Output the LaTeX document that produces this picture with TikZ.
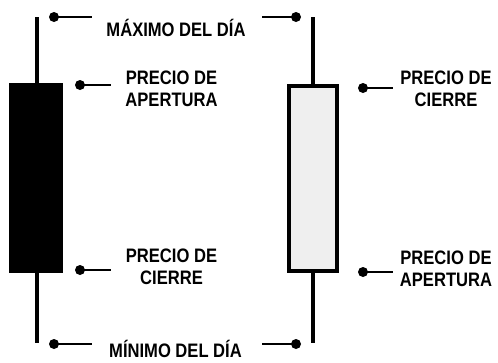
\documentclass[tikz,border=0pt]{standalone}
\usepackage{fontspec}
\setmainfont{Liberation Sans}[FakeStretch=0.85]
\definecolor{bodygray}{HTML}{EFEFEF}
\begin{document}
\begin{tikzpicture}[x=1pt, y=-1pt,
  wick/.style={line width=4.5pt},
  ptr/.style={line width=2.5pt},
  dot/.style={circle, fill, inner sep=0pt, minimum size=10pt},
  lbl/.style={font=\bfseries\fontsize{19.5}{22}\selectfont, align=center, inner sep=0pt, anchor=base}]
\clip (0,0) rectangle (498,362);
% vela bajista
\draw[wick] (37,17) -- (37,343);
\fill (9,83) rectangle (63,273);
% vela alcista
\draw[wick] (313,17) -- (313,343);
\filldraw[fill=bodygray, line width=4pt] (289.3,86) rectangle (337.3,271);

\node[lbl] (max) at (176,36) {MÁXIMO DEL DÍA};
\node[lbl] (min) at (175.5,357.5) {MÍNIMO DEL DÍA};
\node[lbl] (ap-l) at (171.5,106) {PRECIO DE\\APERTURA};
\node[lbl] (ci-l) at (171.5,284) {PRECIO DE\\CIERRE};
\node[lbl] (ci-r) at (446,106) {PRECIO DE\\CIERRE};
\node[lbl] (ap-r) at (446,286) {PRECIO DE\\APERTURA};

\node[dot] (max-l) at (54,17) {};
\node[dot] (max-r) at (296,17) {};
\node[dot] (min-l) at (54,344) {};
\node[dot] (min-r) at (296,344) {};
\node[dot] (pap-l) at (80,85) {};
\node[dot] (pci-l) at (80,270) {};
\node[dot] (pci-r) at (363,88) {};
\node[dot] (pap-r) at (363,272) {};

\draw[ptr] (max-l.center) -- ++(38,0);
\draw[ptr] (max-r.center) -- ++(-34,0);
\draw[ptr] (min-l.center) -- ++(38,0);
\draw[ptr] (min-r.center) -- ++(-34,0);
\draw[ptr] (pap-l.center) -- ++(31,0);
\draw[ptr] (pci-l.center) -- ++(31,0);
\draw[ptr] (pci-r.center) -- ++(30,0);
\draw[ptr] (pap-r.center) -- ++(30,0);
\end{tikzpicture}
\end{document}
